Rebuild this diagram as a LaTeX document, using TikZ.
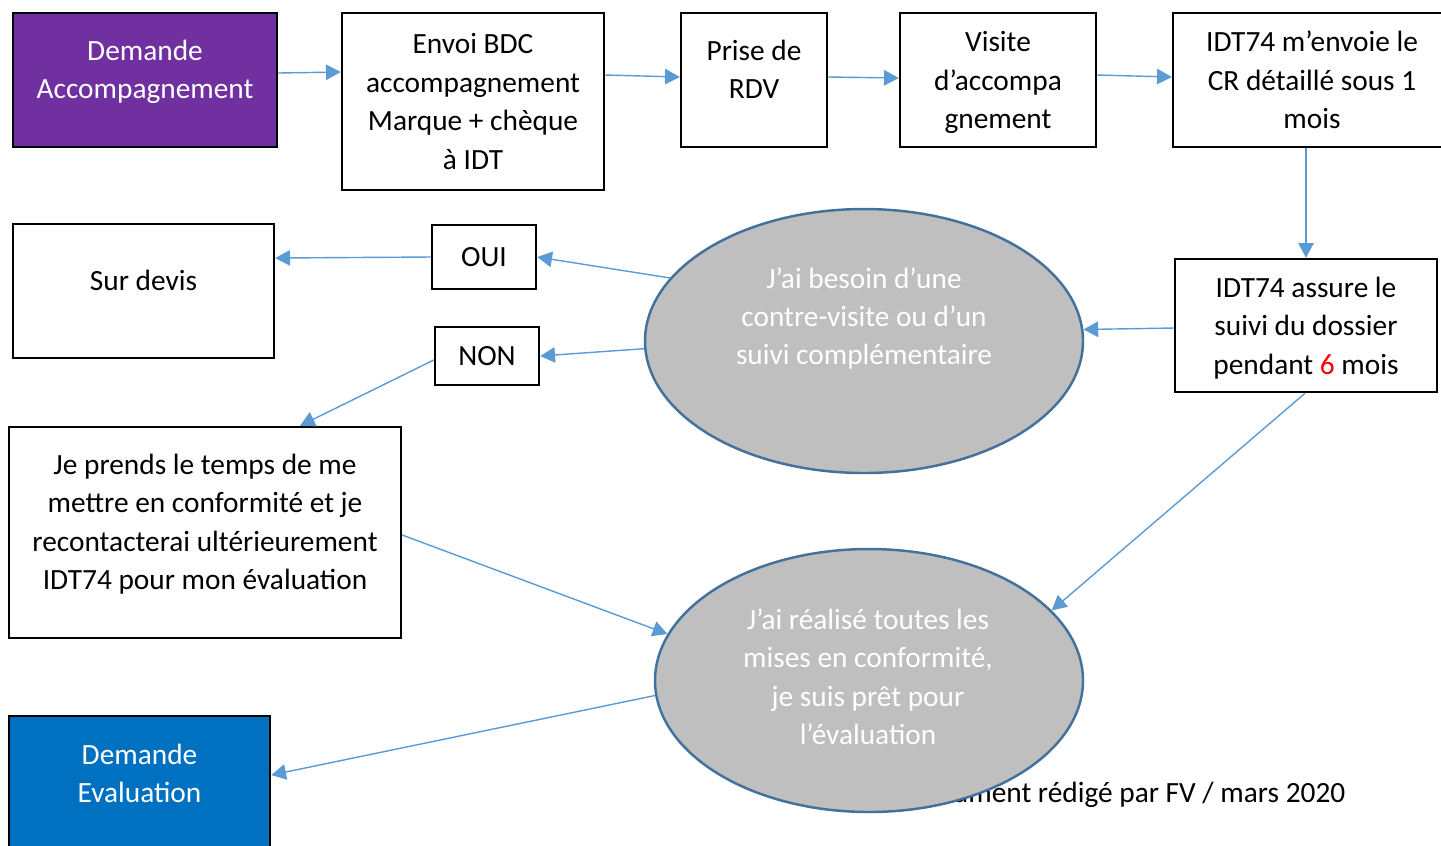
\documentclass[tikz,border=0pt]{standalone}
\usepackage{fontspec}
\setmainfont{Carlito}
\usetikzlibrary{shapes.geometric,arrows.meta}
\definecolor{violetBox}{RGB}{112,48,160}
\definecolor{bleuBox}{RGB}{0,112,192}
\definecolor{flecheBleu}{RGB}{91,155,213}
\definecolor{grisEll}{RGB}{191,191,191}
\definecolor{bordEll}{RGB}{65,113,156}
\begin{document}
\begin{tikzpicture}[font=\fontsize{8.35}{10.95}\selectfont,
rectPurple/.style={rectangle, draw=black, line width=0.7pt, fill=violetBox, text=white, align=center, inner sep=0pt},
rectWhite/.style={rectangle, draw=black, line width=0.7pt, fill=white, align=center, inner sep=0pt},
rectBlue/.style={rectangle, draw=black, line width=0.7pt, fill=bleuBox, text=white, align=center, inner sep=0pt},
textUp/.style={text depth=0.21cm},
textDown/.style={text depth=0pt},
ellGrey/.style={ellipse, draw=bordEll, line width=0.7pt, fill=grisEll, inner sep=0pt},
ellText/.style={text=white, align=center},
arrowBlue/.style={color=flecheBleu, line width=0.4pt, -{Triangle[length=4.2pt,width=4.4pt]}}]

\useasboundingbox (0,0) rectangle (14.41,-8.45);

\node[anchor=east, inner sep=0pt] (footer) at (13.46,-7.95) {Document rédigé par FV / mars 2020};

\node[rectPurple, textUp, minimum width=2.64cm, minimum height=1.34cm] (accomp) at (1.45,-0.80) {Demande\\Accompagnement};
\node[rectWhite, minimum width=2.62cm, minimum height=1.77cm] (bdc) at (4.73,-1.015) {Envoi BDC\\accompagnement\\Marque + chèque\\à IDT};
\node[rectWhite, textUp, minimum width=1.46cm, minimum height=1.34cm] (rdv) at (7.54,-0.80) {Prise de\\RDV};
\node[rectWhite, textDown, minimum width=1.96cm, minimum height=1.34cm] (visite) at (9.98,-0.80) {Visite\\d’accompa\\gnement};
\node[rectWhite, textDown, minimum width=2.78cm, minimum height=1.34cm] (idtcr) at (13.12,-0.80) {IDT74 m’envoie le\\CR détaillé sous 1\\mois};

\node[rectWhite, textDown, minimum width=2.62cm, minimum height=1.33cm] (suivi) at (13.06,-3.255) {IDT74 assure le\\suivi du dossier\\pendant {\color{red}6} mois};

\node[ellGrey, minimum width=4.38cm, minimum height=2.64cm] (besoin) at (8.64,-3.41) {};
\node[ellText] (besoinText) at (8.64,-3.185) {J’ai besoin d’une\\contre-visite ou d’un\\suivi complémentaire};

\node[rectWhite, minimum width=1.04cm, minimum height=0.64cm] (oui) at (4.84,-2.57) {OUI};
\node[rectWhite, minimum width=1.04cm, minimum height=0.58cm] (non) at (4.87,-3.56) {NON};
\node[rectWhite, textUp, minimum width=2.61cm, minimum height=1.34cm] (devis) at (1.435,-2.91) {Sur devis};
\node[rectWhite, textUp, minimum width=3.92cm, minimum height=2.11cm] (conform) at (2.05,-5.325) {Je prends le temps de me\\mettre en conformité et je\\recontacterai ultérieurement\\IDT74 pour mon évaluation};

\node[ellGrey, minimum width=4.28cm, minimum height=2.63cm] (pret) at (8.69,-6.805) {};
\node[ellText] (pretText) at (8.68,-6.765) {J’ai réalisé toutes les\\mises en conformité,\\je suis prêt pour\\l’évaluation};

\node[rectBlue, textUp, minimum width=2.61cm, minimum height=1.36cm] (eval) at (1.395,-7.84) {Demande\\Evaluation};


\path[arrowBlue] ([yshift=0.07cm]accomp.east)  edge ([yshift=0.295cm]bdc.west)
			([yshift=0.265cm]bdc.east)   edge ([yshift=0.03cm]rdv.west)
			([yshift=0.03cm]rdv.east)    edge ([yshift=0.02cm]visite.west)
			([yshift=0.05cm]visite.east) edge ([yshift=0.03cm]idtcr.west)
			([xshift=-0.06cm]idtcr.south) edge (suivi.north)
			([yshift=-0.025cm]suivi.west) edge (besoin.3)
			(besoin.162)                 edge (oui.east)
			(oui.west)                   edge ([yshift=0.33cm]devis.east)
			(besoin.182)                 edge (non.east)
			([yshift=-0.04cm]non.west)   edge ([xshift=0.95cm]conform.north)
			([yshift=-0.025cm]conform.east) edge (pret.167)
			([xshift=-0.01cm]suivi.south) edge (pret.21)
			(pret.184)                   edge ([yshift=0.09cm]eval.east);

\end{tikzpicture}
\end{document}
